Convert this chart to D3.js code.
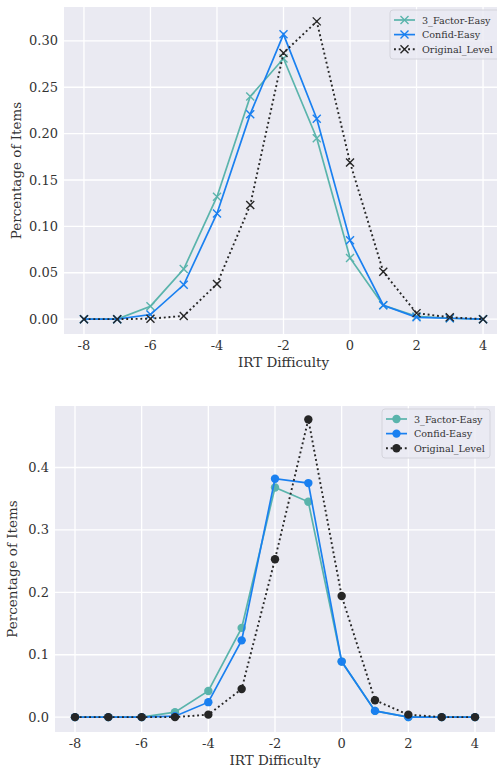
<!DOCTYPE html>
<html>
<head>
<meta charset="utf-8">
<script src="https://cdn.jsdelivr.net/npm/d3@7"></script>
<style>
  body { margin: 0; background: #fff; }
  text { font-family: "DejaVu Serif", serif; fill: #333; }
</style>
</head>
<body>
<div id="chart"></div>
<script>
// x positions (IRT difficulty bins)
var difficulty = [-8, -7, -6, -5, -4, -3, -2, -1, 0, 1, 2, 3, 4];
var xTicks = [-8, -6, -4, -2, 0, 2, 4];

// top panel (x markers)
var topFactor = [0, 0, 0.014, 0.054, 0.132, 0.240, 0.281, 0.195, 0.066, 0.015, 0.003, 0.001, 0];
var topConfid = [0, 0, 0.005, 0.037, 0.114, 0.221, 0.307, 0.216, 0.085, 0.015, 0.002, 0.001, 0];
var topOriginal = [0, 0, 0.0005, 0.0035, 0.038, 0.123, 0.287, 0.321, 0.169, 0.051, 0.0065, 0.002, 0];
var topYTicks = [0, 0.05, 0.10, 0.15, 0.20, 0.25, 0.30];

// bottom panel (circle markers)
var botFactor = [0, 0, 0, 0.008, 0.042, 0.143, 0.368, 0.345, 0.089, 0.010, 0, 0, 0];
var botConfid = [0, 0, 0, 0.0015, 0.024, 0.123, 0.382, 0.375, 0.089, 0.010, 0, 0, 0];
var botOriginal = [0, 0, 0, 0, 0.004, 0.045, 0.253, 0.477, 0.194, 0.027, 0.004, 0, 0];
var botYTicks = [0, 0.1, 0.2, 0.3, 0.4];

var seriesNames = ['3_Factor-Easy', 'Confid-Easy', 'Original_Level'];
var seriesColors = ['#5ab4ac', '#1a80f0', '#262626'];

var svg = d3.select('#chart').append('svg')
    .attr('width', 497)
    .attr('height', 769);

function drawPanel(opt) {
    var x = d3.scaleLinear().domain([-8.6, 4.6]).range([opt.left, opt.right]);
    var y = d3.scaleLinear().domain(opt.yDomain).range([opt.bottom, opt.top]);
    var g = svg.append('g');

    g.append('rect')
        .attr('x', opt.left).attr('y', opt.top)
        .attr('width', opt.right - opt.left)
        .attr('height', opt.bottom - opt.top)
        .attr('fill', '#eaeaf2');

    // grid
    g.selectAll('.vgrid').data(xTicks).enter().append('line')
        .attr('x1', function (d) { return x(d); })
        .attr('x2', function (d) { return x(d); })
        .attr('y1', opt.top).attr('y2', opt.bottom)
        .attr('stroke', '#fff').attr('stroke-width', 1.3);
    g.selectAll('.hgrid').data(opt.yTicks).enter().append('line')
        .attr('y1', function (d) { return y(d); })
        .attr('y2', function (d) { return y(d); })
        .attr('x1', opt.left).attr('x2', opt.right)
        .attr('stroke', '#fff').attr('stroke-width', 1.3);

    // tick labels
    g.selectAll('.xt').data(xTicks).enter().append('text')
        .attr('x', function (d) { return x(d); })
        .attr('y', opt.bottom + 16)
        .attr('text-anchor', 'middle')
        .style('font-size', '13px')
        .text(function (d) { return d; });
    g.selectAll('.yt').data(opt.yTicks).enter().append('text')
        .attr('x', opt.left - 6)
        .attr('y', function (d) { return y(d) + 4.5; })
        .attr('text-anchor', 'end')
        .style('font-size', '13px')
        .text(function (d) { return d3.format(opt.yFormat)(d); });

    // axis labels
    g.append('text')
        .attr('x', (opt.left + opt.right) / 2)
        .attr('y', opt.bottom + 33)
        .attr('text-anchor', 'middle')
        .style('font-size', '13.5px')
        .text('IRT Difficulty');
    g.append('text')
        .attr('transform', 'translate(' + opt.yLabelX + ',' + (opt.top + opt.bottom) / 2 + ') rotate(-90)')
        .attr('text-anchor', 'middle')
        .style('font-size', '13.5px')
        .text('Percentage of Items');

    var line = d3.line()
        .x(function (d, i) { return x(difficulty[i]); })
        .y(function (d) { return y(d); });

    opt.series.forEach(function (vals, k) {
        var color = seriesColors[k];
        var path = g.append('path')
            .datum(vals)
            .attr('d', line)
            .attr('fill', 'none')
            .attr('stroke', color)
            .attr('stroke-width', 1.7);
        if (k === 2) {
            path.attr('stroke-dasharray', '1.9,2.8').attr('stroke-width', 1.9);
        }
        drawMarkers(g, vals.map(function (v, i) { return [x(difficulty[i]), y(v)]; }), color, opt.marker);
    });

    // legend
    var lg = g.append('g');
    lg.append('rect')
        .attr('x', opt.legend.x).attr('y', opt.legend.y)
        .attr('width', opt.legend.w).attr('height', opt.legend.h)
        .attr('rx', 3)
        .attr('fill', '#eaeaf2').attr('fill-opacity', 0.8)
        .attr('stroke', '#d4d4dc').attr('stroke-width', 1);
    seriesNames.forEach(function (name, k) {
        var ly = opt.legend.y + 10 + k * 14.6;
        var x0 = opt.legend.x + 4, x1 = opt.legend.x + 25;
        var ln = lg.append('line')
            .attr('x1', x0).attr('x2', x1)
            .attr('y1', ly).attr('y2', ly)
            .attr('stroke', seriesColors[k]).attr('stroke-width', 1.7);
        if (k === 2) {
            ln.attr('stroke-dasharray', '1.9,2.8').attr('stroke-width', 1.9);
        }
        drawMarkers(lg, [[(x0 + x1) / 2, ly]], seriesColors[k], opt.marker);
        lg.append('text')
            .attr('x', opt.legend.x + 32)
            .attr('y', ly + 3.6)
            .style('font-size', '9.6px')
            .text(name);
    });
}

function drawMarkers(g, pts, color, kind) {
    if (kind === 'x') {
        var s = 4;
        g.append('g').selectAll('path').data(pts).enter().append('path')
            .attr('d', function (p) {
                return 'M' + (p[0] - s) + ',' + (p[1] - s) + 'L' + (p[0] + s) + ',' + (p[1] + s) +
                    'M' + (p[0] - s) + ',' + (p[1] + s) + 'L' + (p[0] + s) + ',' + (p[1] - s);
            })
            .attr('stroke', color)
            .attr('stroke-width', 1.4)
            .attr('fill', 'none');
    } else {
        g.append('g').selectAll('circle').data(pts).enter().append('circle')
            .attr('cx', function (p) { return p[0]; })
            .attr('cy', function (p) { return p[1]; })
            .attr('r', 4.2)
            .attr('fill', color);
    }
}

drawPanel({
    left: 64, right: 503, top: 7, bottom: 334,
    yDomain: [-0.016, 0.3365],
    yTicks: topYTicks,
    yFormat: '.2f',
    yLabelX: 21,
    series: [topFactor, topConfid, topOriginal],
    marker: 'x',
    legend: { x: 390, y: 10, w: 112, h: 49 }
});

drawPanel({
    left: 55, right: 495, top: 406, bottom: 732,
    yDomain: [-0.0238, 0.4985],
    yTicks: botYTicks,
    yFormat: '.1f',
    yLabelX: 17,
    series: [botFactor, botConfid, botOriginal],
    marker: 'o',
    legend: { x: 382, y: 409, w: 108, h: 49 }
});
</script>
</body>
</html>
